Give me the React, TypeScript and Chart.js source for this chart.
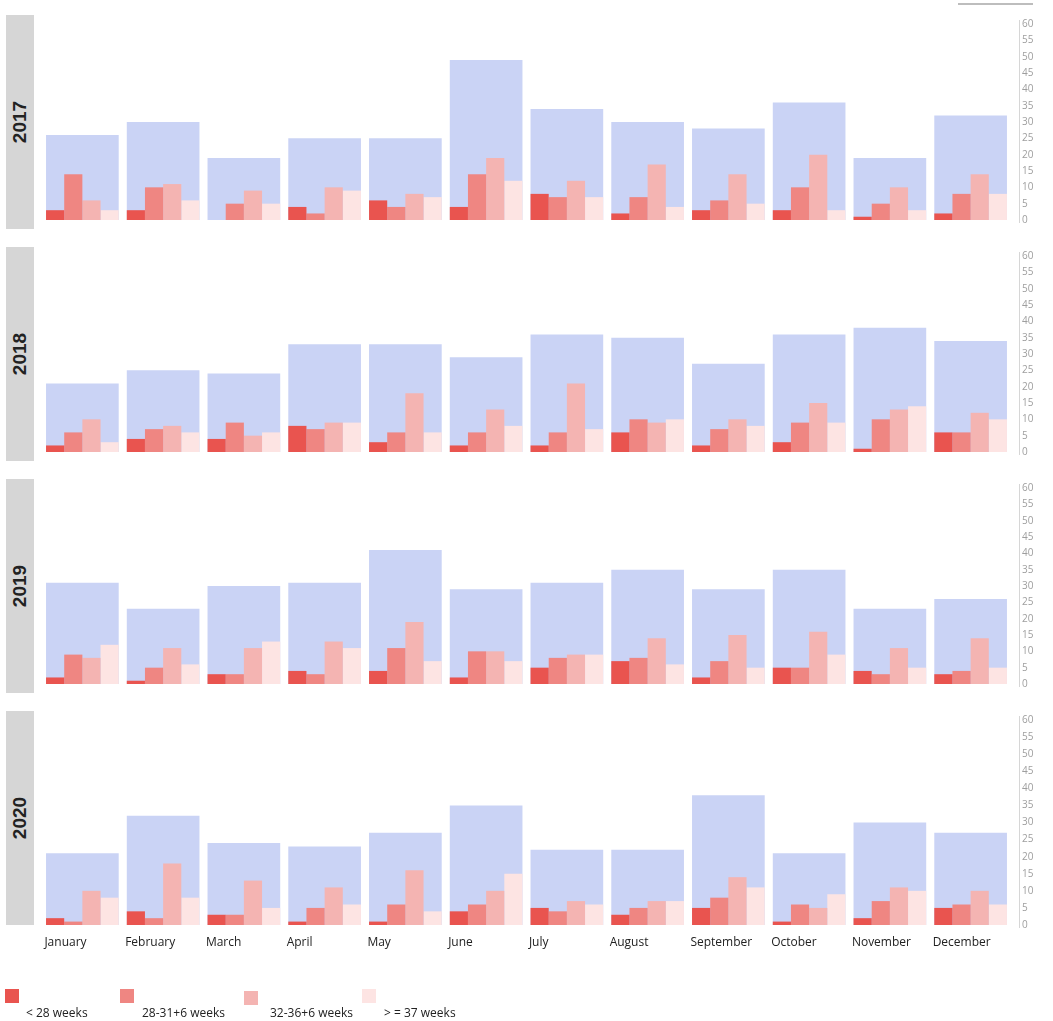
import React, { useEffect, useRef } from "react";
import { Chart, registerables } from "chart.js";

Chart.register(...registerables);

const MONTHS = [
  "January", "February", "March", "April", "May", "June",
  "July", "August", "September", "October", "November", "December",
];
const CATEGORY_LABELS = ["< 28 weeks", "28-31+6 weeks", "32-36+6 weeks", "> = 37 weeks"];
const Y_MIN = 0;
const Y_MAX = 60;
const Y_STEP = 5;

// 2017
const total2017 = [26, 30, 19, 25, 25, 49, 34, 30, 28, 36, 19, 32];
const lt28_2017 = [3, 3, 0, 4, 6, 4, 8, 2, 3, 3, 1, 2];
const w28to31_2017 = [14, 10, 5, 2, 4, 14, 7, 7, 6, 10, 5, 8];
const w32to36_2017 = [6, 11, 9, 10, 8, 19, 12, 17, 14, 20, 10, 14];
const ge37_2017 = [3, 6, 5, 9, 7, 12, 7, 4, 5, 3, 3, 8];

// 2018
const total2018 = [21, 25, 24, 33, 33, 29, 36, 35, 27, 36, 38, 34];
const lt28_2018 = [2, 4, 4, 8, 3, 2, 2, 6, 2, 3, 1, 6];
const w28to31_2018 = [6, 7, 9, 7, 6, 6, 6, 10, 7, 9, 10, 6];
const w32to36_2018 = [10, 8, 5, 9, 18, 13, 21, 9, 10, 15, 13, 12];
const ge37_2018 = [3, 6, 6, 9, 6, 8, 7, 10, 8, 9, 14, 10];

// 2019
const total2019 = [31, 23, 30, 31, 41, 29, 31, 35, 29, 35, 23, 26];
const lt28_2019 = [2, 1, 3, 4, 4, 2, 5, 7, 2, 5, 4, 3];
const w28to31_2019 = [9, 5, 3, 3, 11, 10, 8, 8, 7, 5, 3, 4];
const w32to36_2019 = [8, 11, 11, 13, 19, 10, 9, 14, 15, 16, 11, 14];
const ge37_2019 = [12, 6, 13, 11, 7, 7, 9, 6, 5, 9, 5, 5];

// 2020
const total2020 = [21, 32, 24, 23, 27, 35, 22, 22, 38, 21, 30, 27];
const lt28_2020 = [2, 4, 3, 1, 1, 4, 5, 3, 5, 1, 2, 5];
const w28to31_2020 = [1, 2, 3, 5, 6, 6, 4, 5, 8, 6, 7, 6];
const w32to36_2020 = [10, 18, 13, 11, 16, 10, 7, 7, 14, 5, 11, 10];
const ge37_2020 = [8, 8, 5, 6, 4, 15, 6, 7, 11, 9, 10, 6];

const PANELS = [
  { year: "2017", total: total2017, series: [lt28_2017, w28to31_2017, w32to36_2017, ge37_2017] },
  { year: "2018", total: total2018, series: [lt28_2018, w28to31_2018, w32to36_2018, ge37_2018] },
  { year: "2019", total: total2019, series: [lt28_2019, w28to31_2019, w32to36_2019, ge37_2019] },
  { year: "2020", total: total2020, series: [lt28_2020, w28to31_2020, w32to36_2020, ge37_2020] },
];

const RED_COLORS = ["#e9544f", "#ef8682", "#f4b4b2", "#fde4e3"];
const BLUE = "#cad3f5";
const FONT = "'Open Sans', 'DejaVu Sans', sans-serif";

const PLOT_TOP = 15;
const PANEL_PITCH = 232;
const PLOT_H = 214;
const PAD = 8;
const X_AXIS_H = 30;

const axisLinePlugin = {
  id: "axisLine",
  afterDraw(chart: any) {
    const { ctx, chartArea } = chart;
    ctx.save();
    ctx.strokeStyle = "#d6d6d6";
    ctx.lineWidth = 1;
    const x = Math.round(chartArea.right + 8) + 0.5;
    ctx.beginPath();
    ctx.moveTo(x, chartArea.top - 4);
    ctx.lineTo(x, chartArea.bottom + 3);
    ctx.stroke();
    ctx.restore();
  },
};

function Panel({ year, total, series, top, showMonths }: any) {
  const ref = useRef<HTMLCanvasElement | null>(null);
  const height = showMonths ? PAD + PLOT_H + X_AXIS_H : PAD + PLOT_H + PAD;

  useEffect(() => {
    if (!ref.current) return;
    const chart = new Chart(ref.current, {
      type: "bar",
      data: {
        labels: MONTHS,
        datasets: [
          ...series.map((d: number[], i: number) => ({
            label: CATEGORY_LABELS[i],
            data: d,
            backgroundColor: RED_COLORS[i],
            categoryPercentage: 0.9,
            barPercentage: 1,
            borderWidth: 0,
            order: 1,
          })),
          {
            label: "Total",
            data: total,
            backgroundColor: BLUE,
            grouped: false,
            categoryPercentage: 0.9,
            barPercentage: 1,
            borderWidth: 0,
            order: 2,
          },
        ],
      },
      options: {
        responsive: false,
        animation: false,
        events: [],
        layout: { padding: { left: 42, right: 0, top: PAD, bottom: showMonths ? 0 : PAD } },
        plugins: { legend: { display: false }, tooltip: { enabled: false } },
        scales: {
          x: {
            type: "category",
            offset: true,
            display: showMonths,
            grid: { display: false, drawTicks: false },
            border: { display: false },
            ticks: {
              align: "start",
              labelOffset: -38,
              padding: 10,
              color: "#222222",
              font: { family: FONT, size: 12 },
              maxRotation: 0,
              autoSkip: false,
            },
            afterFit: (s: any) => {
              if (showMonths) s.height = X_AXIS_H;
            },
          },
          y: {
            position: "right",
            min: Y_MIN,
            max: Y_MAX,
            ticks: {
              stepSize: Y_STEP,
              autoSkip: false,
              padding: 11,
              color: "#9e9e9e",
              font: { family: FONT, size: 10 },
            },
            grid: { display: false, drawTicks: false },
            border: { display: false },
            afterFit: (s: any) => {
              s.width = 42;
            },
          },
        },
      } as any,
      plugins: [axisLinePlugin],
    });
    return () => chart.destroy();
  }, []);

  return (
    <>
      <canvas
        ref={ref}
        width={1053}
        height={height}
        style={{ position: "absolute", left: 0, top: top - PAD, width: 1053, height, display: "block" }}
      />
      <div
        style={{
          position: "absolute",
          left: 6,
          top,
          width: 28,
          height: PLOT_H,
          background: "#d6d6d6",
          display: "flex",
          alignItems: "center",
          justifyContent: "center",
        }}
      >
        <span
          style={{
            transform: "rotate(-90deg)",
            fontFamily: "'Liberation Sans', Arial, sans-serif",
            fontWeight: 700,
            fontSize: 19,
            color: "#222222",
            whiteSpace: "nowrap",
          }}
        >
          {year}
        </span>
      </div>
    </>
  );
}

const LEGEND_POS = [
  { sx: 5, tx: 26, sy: 989 },
  { sx: 120, tx: 142, sy: 989 },
  { sx: 244, tx: 270, sy: 991 },
  { sx: 362, tx: 384, sy: 989 },
];

export default function App() {
  return (
    <div
      style={{
        position: "absolute",
        left: 0,
        top: 0,
        width: 1053,
        height: 1021,
        background: "#ffffff",
        overflow: "hidden",
      }}
    >
      <div
        style={{ position: "absolute", left: 958, top: 3, width: 75, height: 2, background: "#bdbdbd" }}
      />
      {PANELS.map((p, i) => (
        <Panel
          key={p.year}
          year={p.year}
          total={p.total}
          series={p.series}
          top={PLOT_TOP + i * PANEL_PITCH}
          showMonths={i === PANELS.length - 1}
        />
      ))}
      {CATEGORY_LABELS.map((lab, i) => (
        <React.Fragment key={lab}>
          <div
            style={{
              position: "absolute",
              left: LEGEND_POS[i].sx,
              top: LEGEND_POS[i].sy,
              width: 14,
              height: 14,
              background: RED_COLORS[i],
            }}
          />
          <div
            style={{
              position: "absolute",
              left: LEGEND_POS[i].tx,
              top: 1005,
              fontFamily: FONT,
              fontSize: 12,
              color: "#222222",
              whiteSpace: "nowrap",
              lineHeight: "16px",
            }}
          >
            {lab}
          </div>
        </React.Fragment>
      ))}
    </div>
  );
}
